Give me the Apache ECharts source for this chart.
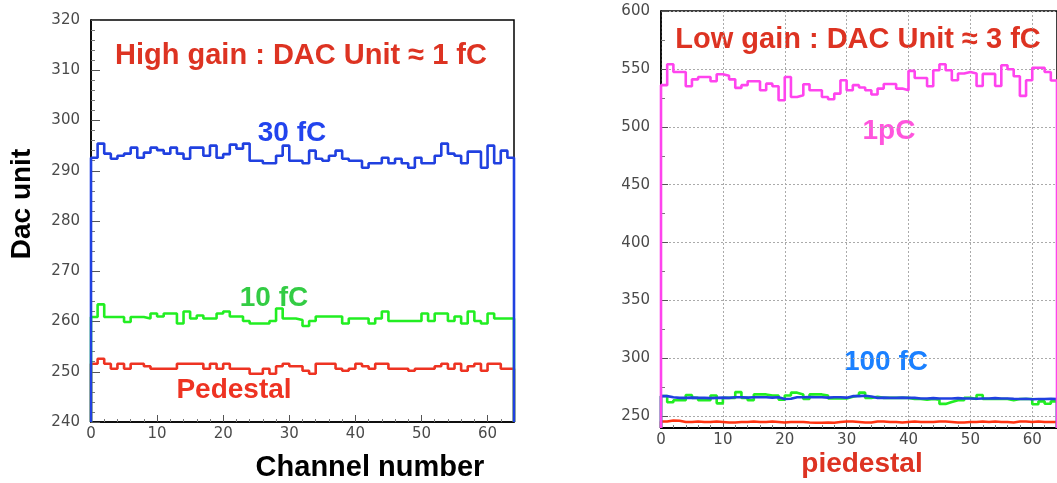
<!DOCTYPE html>
<html>
<head>
<meta charset="utf-8">
<title>DAC unit vs channel</title>
<script src="https://cdn.jsdelivr.net/npm/echarts@6/dist/echarts.min.js"></script>
<style>
  html, body { margin: 0; padding: 0; background: #fff; }
  #main { width: 1057px; height: 483px; }
</style>
</head>
<body>
<div id="main"></div>
<script>
// channel axis
var xTicks = [0, 10, 20, 30, 40, 50, 60];
var nChannels = 64;

// high gain panel (left)
var hgPedestal = [251.6, 252.6, 251.6, 250.6, 251.6, 250.6, 251.6, 251.6, 251.1, 250.6, 250.6, 250.6, 250.6, 251.6, 251.6, 251.6,
  251.6, 250.6, 251.6, 250.6, 251.6, 250.6, 250.6, 250.6, 249.6, 249.6, 250.6, 249.6, 251.1, 251.6, 251.1, 251.1,
  250.2, 249.6, 251.6, 251.6, 251.6, 250.6, 250.2, 250.6, 251.6, 251.1, 250.6, 251.6, 251.6, 250.6, 250.6, 250.6,
  250.2, 250.6, 250.6, 250.6, 251.1, 251.6, 250.6, 251.6, 250.2, 251.1, 251.6, 250.2, 251.6, 251.6, 250.6, 250.6];
var hg10fC = [260.9, 263.4, 260.9, 260.9, 260.9, 259.9, 260.9, 260.9, 260.6, 261.6, 261.0, 261.6, 261.6, 259.6, 262.0, 260.6,
  261.2, 260.6, 260.6, 261.6, 262.0, 261.0, 261.0, 260.1, 259.6, 259.6, 259.6, 260.1, 262.6, 260.6, 260.6, 260.3,
  259.1, 260.1, 261.0, 261.0, 261.0, 261.0, 259.6, 260.6, 260.6, 260.6, 259.6, 260.6, 262.0, 260.1, 260.1, 260.1,
  260.1, 260.1, 261.6, 260.1, 261.6, 261.6, 260.1, 261.0, 259.6, 262.0, 260.1, 259.6, 261.6, 260.6, 260.6, 260.6];
var hg30fC = [292.6, 295.4, 293.4, 292.4, 293.0, 293.4, 294.6, 292.6, 293.6, 294.6, 294.1, 293.4, 294.6, 293.4, 292.4, 294.6,
  294.6, 293.0, 295.0, 292.6, 293.3, 295.2, 294.4, 295.4, 292.0, 292.0, 291.5, 291.5, 293.0, 295.0, 292.0, 292.0,
  291.5, 294.0, 292.4, 292.0, 293.0, 294.0, 292.4, 292.0, 292.0, 290.6, 291.5, 291.5, 292.6, 291.5, 292.4, 291.5,
  290.6, 292.6, 291.5, 291.5, 293.0, 295.4, 293.4, 293.0, 291.5, 293.8, 293.8, 290.6, 295.0, 291.5, 294.0, 292.6];

// low gain panel (right)
var lgPedestal = [245.6, 246.5, 246.3, 245.2, 245.2, 245.6, 245.2, 245.2, 245.6, 245.2, 244.8, 244.8, 245.2, 245.2, 245.6, 245.2,
  245.2, 245.6, 245.2, 244.8, 245.2, 245.2, 245.2, 244.8, 244.5, 244.5, 244.8, 244.5, 245.2, 245.6, 245.6, 245.2,
  244.8, 244.8, 245.6, 245.6, 245.2, 245.2, 244.8, 245.2, 245.6, 245.2, 245.2, 245.2, 245.6, 245.6, 245.2, 244.8,
  244.8, 245.2, 245.2, 245.6, 245.2, 245.6, 245.2, 245.2, 244.8, 245.6, 245.6, 245.2, 245.6, 245.2, 245.2, 245.2];
var lg10fC = [267.6, 262.2, 264.0, 264.0, 268.5, 266.0, 264.0, 264.0, 268.0, 261.3, 266.0, 266.0, 271.0, 266.0, 264.0, 269.0,
  269.0, 268.0, 268.0, 264.5, 268.0, 270.5, 269.0, 265.0, 269.0, 269.0, 268.0, 265.5, 265.5, 265.5, 267.0, 268.0,
  270.5, 266.0, 267.0, 266.0, 266.0, 266.0, 266.0, 266.0, 265.0, 265.0, 264.5, 265.0, 264.5, 260.8, 262.5, 264.0,
  264.0, 266.0, 265.0, 268.5, 265.0, 265.0, 265.0, 265.0, 264.0, 265.0, 265.0, 265.0, 260.5, 263.0, 261.0, 263.0];
var lg100fC = [267.5, 266.5, 266.0, 266.0, 266.2, 266.0, 266.0, 265.8, 266.0, 266.2, 266.0, 266.5, 266.5, 266.2, 266.5, 266.5,
  266.5, 266.2, 266.5, 265.0, 265.2, 266.5, 266.5, 266.8, 266.5, 266.5, 266.2, 266.5, 266.5, 266.2, 267.5, 267.5,
  267.8, 267.2, 266.0, 266.2, 266.0, 266.0, 266.2, 266.0, 266.0, 265.5, 265.5, 265.8, 265.5, 265.5, 265.5, 265.8,
  265.5, 265.5, 265.2, 265.5, 265.5, 265.8, 265.5, 265.5, 265.2, 265.0, 265.2, 264.8, 265.0, 265.0, 265.2, 265.0];
var lg1pC = [536.0, 554.0, 547.4, 547.4, 535.0, 541.0, 543.0, 543.0, 539.4, 545.4, 544.0, 541.0, 533.6, 536.0, 539.4, 539.4,
  531.6, 537.3, 535.0, 523.0, 543.0, 525.8, 527.3, 536.8, 531.6, 531.6, 525.8, 523.8, 528.7, 540.2, 531.6, 536.0,
  534.0, 531.6, 527.9, 533.0, 537.0, 537.0, 533.0, 531.6, 548.3, 542.2, 542.2, 535.0, 548.8, 554.0, 548.8, 540.2,
  546.0, 547.4, 546.0, 535.3, 545.7, 545.7, 535.3, 553.2, 549.7, 543.7, 526.7, 540.2, 551.0, 551.0, 547.4, 540.0];

// histogram outline: drop to the axis floor at both ends, steps drawn by the library
function hist(vals, floor) {
  var pts = [[0, floor]];
  for (var i = 0; i < vals.length; i++) pts.push([i, vals[i]]);
  pts.push([vals.length, vals[vals.length - 1]]);
  pts.push([vals.length, floor]);
  return pts;
}

var labelFont = { fontFamily: 'DejaVu Sans', fontSize: 15, color: '#4a4a4a' };

function histSeries(x, y, vals, floor, color) {
  return {
    type: 'line', xAxisIndex: x, yAxisIndex: y, step: 'end',
    data: hist(vals, floor), symbol: 'none', silent: true,
    lineStyle: { color: color, width: 2.6 }
  };
}

function txt(x, y, s, size, color, rot) {
  return {
    type: 'text', x: x, y: y, rotation: rot || 0, silent: true,
    style: {
      text: s, fontFamily: 'Liberation Sans', fontWeight: 'bold', fontSize: size,
      fill: color, align: 'center', verticalAlign: 'middle'
    }
  };
}

var chart = echarts.init(document.getElementById('main'));
chart.setOption({
  animation: false,
  backgroundColor: '#fff',
  grid: [
    { left: 91, top: 20, width: 423, height: 402, show: true, borderColor: '#000', borderWidth: 1.5 },
    { left: 661, top: 11, width: 403, height: 417, show: true, borderColor: '#000', borderWidth: 1.5 },
    { left: 661, top: 11, width: 403, height: 405.4 }
  ],
  xAxis: [
    {
      gridIndex: 0, type: 'value', min: 0, max: nChannels, interval: 10,
      axisLine: { lineStyle: { color: '#000', width: 1.5 } },
      axisTick: { inside: true, length: 7, lineStyle: { color: '#555' } },
      minorTick: { show: true, splitNumber: 5, length: 3, lineStyle: { color: '#777' } },
      axisLabel: Object.assign({ margin: 5, showMaxLabel: false }, labelFont),
      splitLine: { show: false }
    },
    {
      gridIndex: 1, type: 'value', min: 0, max: nChannels, interval: 10,
      axisLine: { lineStyle: { color: '#000', width: 2 } },
      axisTick: { inside: true, length: 7, lineStyle: { color: '#555' } },
      minorTick: { show: true, splitNumber: 5, length: 3, lineStyle: { color: '#777' } },
      axisLabel: Object.assign({ margin: 5, showMaxLabel: false }, labelFont),
      splitLine: { show: true, lineStyle: { color: '#aaa', type: [2, 2], width: 1 } }
    },
    { gridIndex: 2, type: 'value', min: 0, max: nChannels, show: false }
  ],
  yAxis: [
    {
      gridIndex: 0, type: 'value', min: 240, max: 320, interval: 10,
      axisLine: { lineStyle: { color: '#000', width: 1.5 } },
      axisTick: { inside: true, length: 9, lineStyle: { color: '#555' } },
      minorTick: { show: true, splitNumber: 5, length: 4, lineStyle: { color: '#777' } },
      axisLabel: Object.assign({ margin: 11 }, labelFont),
      splitLine: { show: false }
    },
    {
      gridIndex: 1, type: 'value', min: 240, max: 600,
      axisLine: { show: true, lineStyle: { color: '#000', width: 1.5 } },
      axisTick: { show: false }, axisLabel: { show: false }, splitLine: { show: false }
    },
    {
      gridIndex: 2, type: 'value', min: 250, max: 600, interval: 50,
      axisLine: { show: false },
      axisTick: { inside: true, length: 7, lineStyle: { color: '#555' } },
      minorTick: { show: true, splitNumber: 2, length: 4, lineStyle: { color: '#777' } },
      axisLabel: Object.assign({ margin: 11 }, labelFont),
      splitLine: { show: true, lineStyle: { color: '#aaa', type: [2, 2], width: 1 } }
    }
  ],
  series: [
    histSeries(0, 0, hgPedestal, 240, '#ee3322'),
    histSeries(0, 0, hg10fC, 240, '#22ee22'),
    histSeries(0, 0, hg30fC, 240, '#2040e0'),
    histSeries(1, 1, lgPedestal, 240, '#ff3311'),
    histSeries(1, 1, lg10fC, 240, '#22ee22'),
    histSeries(1, 1, lg100fC, 240, '#2040e0'),
    histSeries(1, 1, lg1pC, 240, '#ff44ee')
  ],
  graphic: [
    txt(301, 56, 'High gain : DAC Unit \u2248 1 fC', 29, '#dd3322'),
    txt(292, 133, '30 fC', 28, '#2244ee'),
    txt(274, 298, '10 fC', 28, '#33cc44'),
    txt(234, 390, 'Pedestal', 28, '#ee3322'),
    txt(22, 204, 'Dac unit', 28, '#000', Math.PI / 2),
    txt(370, 468, 'Channel number', 29, '#000'),
    txt(858, 40, 'Low gain : DAC Unit \u2248 3 fC', 29, '#dd3322'),
    txt(889, 131, '1pC', 28, '#ff55dd'),
    txt(886, 362, '100 fC', 28, '#1a80ff'),
    txt(862, 464, 'piedestal', 28, '#dd3322')
  ]
});
</script>
</body>
</html>
